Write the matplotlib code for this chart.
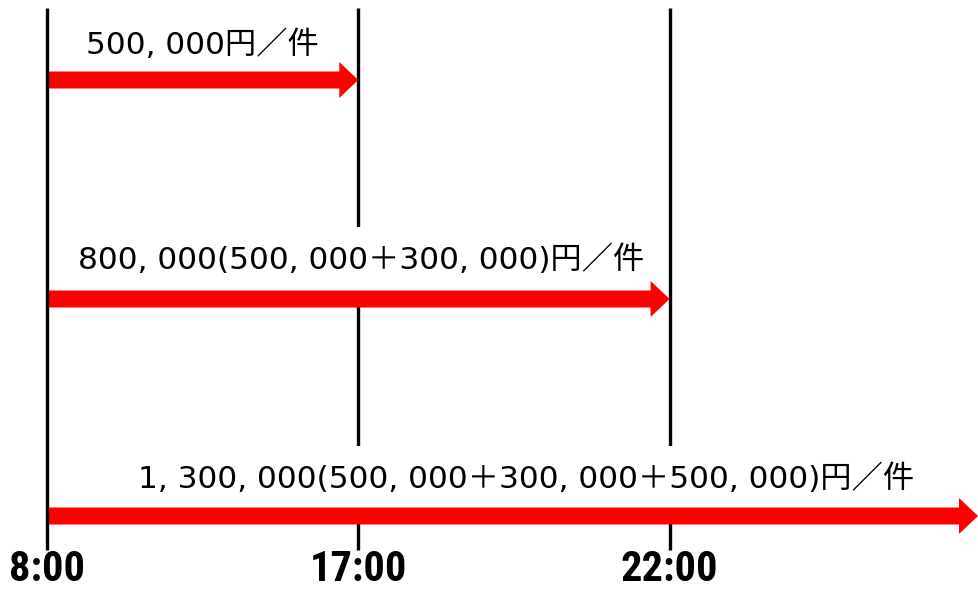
import matplotlib
matplotlib.use("Agg")
import matplotlib.pyplot as plt
from matplotlib.patches import FancyArrow

# ---- data ----
times = ["8:00", "17:00", "22:00"]          # categorical time marks
arrow_ends = [1, 2, 3]                        # arrow end index (3 = beyond last mark)
labels = [
    "500, 000円／件",
    "800, 000(500, 000＋300, 000)円／件",
    "1, 300, 000(500, 000＋300, 000＋500, 000)円／件",
]
label_x = [0.50, 1.01, 1.54]                  # label centres (category units)

W, H = 979, 590
fig = plt.figure(figsize=(W / 100, H / 100), dpi=100)
ax = fig.add_axes([0, 0, 1, 1])
unit = 311.3
ax.set_xlim(-47 / unit, (W - 47) / unit)
ax.set_ylim(H, 0)
ax.axis("off")

arrow_y = [80, 299, 516]
text_y = [45, 260, 479]

# vertical lines
for i, t in enumerate(times):
    ax.plot([i, i], [8, 550], color="black", lw=2.4, solid_capstyle="butt",
            zorder=5 if i == 0 else 1)
    ax.text(i, 569.5, t, ha="center", va="center", fontsize=30.5, fontweight="bold",
            fontstretch="condensed", family=["Roboto Condensed", "DejaVu Sans"],
            color="black")

# arrows
for yc, end in zip(arrow_y, arrow_ends):
    xe = min(end, (W - 48) / unit)
    ax.add_patch(FancyArrow(0, yc, xe, 0, width=17, head_width=36,
                            head_length=19 / unit, length_includes_head=True,
                            color="#ff0000", lw=0, zorder=3))

# labels
for i, (lab, xc, yc) in enumerate(zip(labels, label_x, text_y)):
    bb = None if i == 0 else dict(facecolor="white", edgecolor="none", pad=13)
    ax.text(xc, yc, lab, ha="center", va="center", fontsize=22.5,
            family=["DejaVu Sans", "Noto Sans CJK JP"], color="black",
            bbox=bb, zorder=2)

fig.savefig("out.png", dpi=100)
